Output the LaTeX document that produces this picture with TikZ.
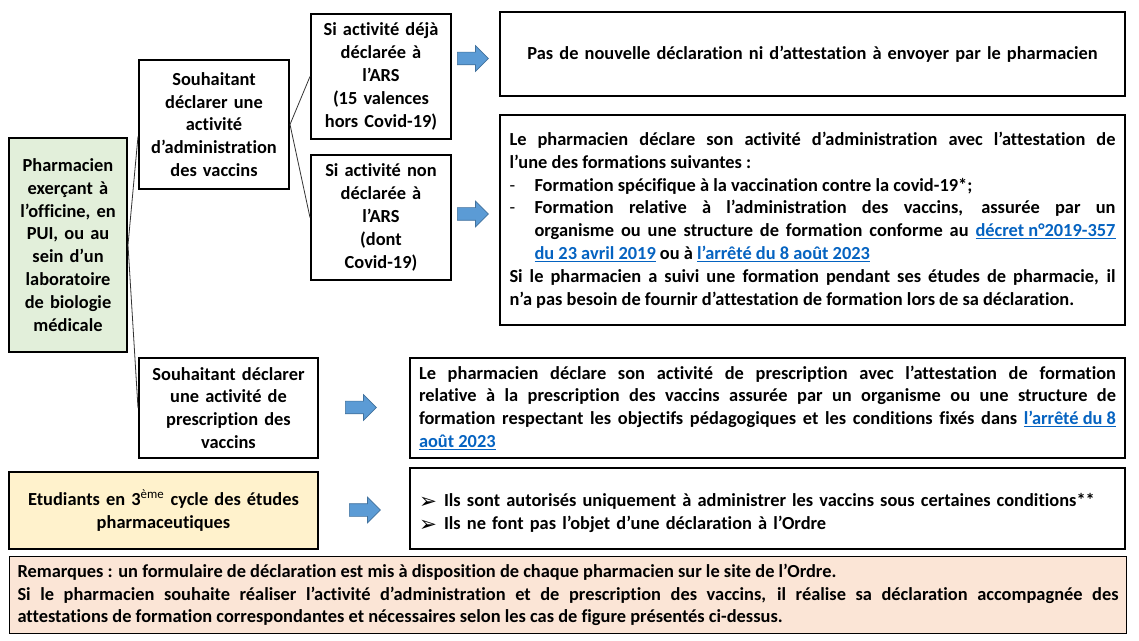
\documentclass[tikz,border=0pt]{standalone}
\usepackage{fontspec}
\setmainfont{Carlito}[Ligatures=NoCommon]
\newfontfamily\symbfont{DejaVu Sans}
\usepackage{xcolor}
\usetikzlibrary{
  shapes.arrows,
  positioning
}
\definecolor{VertPharma}{HTML}{E2EFDA}
\definecolor{JauneEtud}{HTML}{FFF2CC}
\definecolor{SaumonRem}{HTML}{FBE5D6}
\definecolor{BleuFleche}{HTML}{5B9BD5}
\definecolor{BleuBord}{HTML}{41719C}
\definecolor{BleuLien}{HTML}{0563C1}
\setlength\parindent{0pt}
\newcommand\lienurl[1]{{\color{BleuLien}\underline{#1}}}
\newcommand\tiret{\par\hangindent=18.75pt\hangafter=1\noindent\makebox[18.75pt][l]{\mdseries-}}
\newcommand\puce{\par\noindent\makebox[18.75pt][l]{\symbfont\mdseries\fontsize{16}{17}\selectfont\raisebox{-1pt}{➢}}}
\tikzset{
  % Cadre noir à bord épais
  boite/.style={
    rectangle, draw=black, line width=1.5pt,
    anchor=north west, inner sep=0pt,
    align=center, font=\bfseries\fontsize{13.8}{17.1}\selectfont
  },
  % Cadre de texte justifié
  texte/.style={
    boite, align=justify
  },
  % Flèche bleue
  fleche/.style={
    single arrow, draw=BleuBord, line width=0.5pt, fill=BleuFleche,
    minimum height=23.25pt, inner xsep=0pt, inner ysep=4.5pt,
    single arrow head extend=4.9pt, anchor=tail
  },
  % Trait de liaison
  trait/.style={draw=black!80, line width=0.6pt}
}
\begin{document}
\begin{tikzpicture}[x=0.75pt, y=-0.75pt]
  \useasboundingbox[fill=white] (0,0) rectangle (1139,641);

  % Colonne de gauche
  \node[boite, fill=VertPharma, minimum width=88.5pt, minimum height=160.5pt,
        text width=80pt] (pharma) at (8,137)
        {Pharmacien\\exerçant à\\l’officine, en\\PUI, ou au\\sein d’un\\laboratoire\\de biologie\\médicale};
  \node[boite, minimum width=112.5pt, minimum height=96.75pt,
        text width=108pt] (admin) at (138,59)
        {Souhaitant\\déclarer une\\activité\\d’administration\\des vaccins};
  \node[boite, minimum width=134.25pt, minimum height=75pt,
        text width=130pt] (presc) at (138,357)
        {Souhaitant déclarer\\une activité de\\prescription des\\vaccins};
  \node[boite, fill=JauneEtud, minimum width=231.75pt, minimum height=57.75pt,
        text width=225pt] (etud) at (8,471)
        {Etudiants en 3\textsuperscript{\mdseries ème} cycle des études\\pharmaceutiques};

  % Cas ARS
  \node[boite, minimum width=105pt, minimum height=93.75pt,
        text width=100pt] (deja) at (310,13)
        {Si activité déjà\\déclarée à\\l’ARS\\(15 valences\\hors Covid-19)};
  \node[boite, minimum width=105pt, minimum height=93.75pt,
        text width=100pt] (nondecl) at (310,154)
        {Si activité non\\déclarée à\\l’ARS\\(dont\\Covid-19)};

  % Cadres de résultat
  \node[boite, minimum width=468.75pt, minimum height=63pt,
        text width=455pt] (rdeja) at (499,11)
        {Pas de nouvelle déclaration ni d’attestation à envoyer par le pharmacien};
  \node[texte, minimum width=468.75pt, minimum height=157.5pt,
        text width=454.5pt] (rnon) at (499,114)
        {Le pharmacien déclare son activité d’administration avec l’attestation de\linebreak
         l’une des formations suivantes :
         \tiret Formation spécifique à la vaccination contre la covid-19*;
         \tiret Formation relative à l’administration des vaccins, assurée par un\linebreak
         organisme ou une structure de formation conforme au \lienurl{décret n°2019-357}\linebreak
         \lienurl{du 23 avril 2019} ou à \lienurl{l’arrêté du 8 août 2023}
         \par Si le pharmacien a suivi une formation pendant ses études de pharmacie, il\linebreak
         n’a pas besoin de fournir d’attestation de formation lors de sa déclaration.};
  \node[texte, minimum width=536.25pt, minimum height=75pt,
        text width=522.75pt] (rpresc) at (409,357)
        {Le pharmacien déclare son activité de prescription avec l’attestation de formation\linebreak
         relative à la prescription des vaccins assurée par un organisme ou une structure de\linebreak
         formation respectant les objectifs pédagogiques et les conditions fixés dans \lienurl{l’arrêté du 8}\linebreak
         \lienurl{août 2023}};
  \node[boite, align=left, minimum width=536.25pt, minimum height=60.75pt,
        text width=522.75pt] (retud) at (409,467)
        {\puce Ils sont autorisés uniquement à administrer les vaccins sous certaines conditions**
         \puce Ils ne font pas l’objet d’une déclaration à l’Ordre};

  % Remarques
  \node[texte, fill=SaumonRem, line width=0.75pt, minimum width=837.75pt,
        minimum height=57.75pt, text width=825.75pt] (rem) at (9,556)
        {Remarques : un formulaire de déclaration est mis à disposition de chaque pharmacien sur le site de l’Ordre.
         \par Si le pharmacien souhaite réaliser l’activité d’administration et de prescription des vaccins, il réalise sa déclaration accompagnée des\linebreak
         attestations de formation correspondantes et nécessaires selon les cas de figure présentés ci-dessus.};

  % Liaisons
  \draw[trait] (pharma.east) -- ([yshift=-9pt]admin.west);
  \draw[trait] (pharma.east) -- (presc.west);
  \draw[trait] (admin.east) -- (deja.west);
  \draw[trait] (admin.east) -- (nondecl.west);

  % Flèches
  \node[fleche] (f1) at (457,58.5) {};
  \node[fleche] (f2) at (457,214) {};
  \node[fleche] (f3) at (345,407.5) {};
  \node[fleche] (f4) at (349,510) {};

\end{tikzpicture}
\end{document}
